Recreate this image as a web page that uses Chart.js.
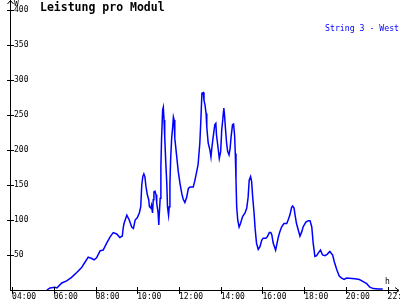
<!DOCTYPE html>
<html>
<head>
<meta charset="utf-8">
<title>Leistung pro Modul</title>
<script src="https://cdn.jsdelivr.net/npm/chart.js@4/dist/chart.umd.min.js"></script>
<style>
  html, body { margin: 0; background: #fff; overflow: hidden; }
  #chart { display: block; }
</style>
</head>
<body>
<canvas id="chart" width="420" height="300"></canvas>
<script>
// data
const times = ['05:40','05:49','06:03','06:09','06:23','06:37','06:51','07:06','07:20','07:30','07:39','07:49','07:56','08:03','08:13','08:22','08:32','08:42','08:51','09:01','09:10','09:17','09:20','09:22','09:30','09:37','09:44','09:49','09:54','10:00','10:06','10:10','10:13','10:16','10:19','10:22','10:25','10:29','10:33','10:35','10:39','10:41','10:44','10:46','10:48','10:51','10:54','10:56','11:00','11:02','11:03','11:06','11:08','11:10','11:13','11:15','11:17','11:19','11:22','11:25','11:27','11:30','11:32','11:34','11:36','11:39','11:42','11:44','11:46','11:48','11:53','11:58','12:03','12:08','12:12','12:17','12:22','12:27','12:32','12:41','12:46','12:51','12:55','13:00','13:03','13:06','13:10','13:12','13:15','13:18','13:20','13:24','13:29','13:32','13:35','13:39','13:43','13:46','13:48','13:52','13:56','14:00','14:03','14:06','14:08','14:09','14:11','14:14','14:17','14:20','14:24','14:27','14:30','14:34','14:37','14:40','14:42','14:44','14:46','14:49','14:53','14:57','15:03','15:10','15:15','15:19','15:22','15:26','15:29','15:32','15:36','15:39','15:43','15:48','15:53','15:58','16:02','16:10','16:14','16:20','16:24','16:27','16:31','16:38','16:41','16:46','16:50','16:55','17:02','17:10','17:14','17:19','17:24','17:27','17:31','17:34','17:38','17:43','17:48','17:53','17:57','18:05','18:12','18:17','18:22','18:26','18:31','18:36','18:41','18:47','18:53','19:00','19:06','19:14','19:22','19:27','19:34','19:41','19:48','19:55','20:02','20:26','20:39','20:50','21:00','21:09','21:19','21:34','21:46'];
const watts = [0,3,4,3,10,13,18,25,32,40,47,45,43,46,56,57,67,76,82,80,75,77,90,95,107,100,90,88,100,103,110,119,150,162,166,162,148,136,129,119,117,121,110,129,140,141,136,124,110,93,105,131,176,217,257,261,243,219,183,152,119,107,119,152,186,217,233,247,243,217,193,169,152,138,130,125,132,145,147,147,157,169,179,210,243,281,282,271,264,252,233,210,200,190,205,221,236,238,221,205,188,198,229,243,255,260,250,229,210,198,193,202,219,236,237,221,195,157,119,100,90,95,105,110,117,133,157,162,155,133,110,88,67,58,62,71,74,74,76,82,82,79,67,57,64,76,83,90,95,95,100,107,118,120,117,107,95,86,77,83,90,97,99,99,90,67,48,49,53,57,50,49,51,55,50,40,29,20,17,15,17,16,15,12,9,4,2,1.5,1.5];
const seriesName = 'String 3 - West';
const xTicks = [4, 6, 8, 10, 12, 14, 16, 18, 20, 22];
const yTicks = [50, 100, 150, 200, 250, 300, 350, 400];

const mono = "'DejaVu Sans Mono', 'Liberation Mono', monospace";

function toHours(t) {
    const p = t.split(':');
    return Number(p[0]) + Number(p[1]) / 60;
}

const points = times.map((t, i) => ({ x: toHours(t), y: watts[i] }));

// title, legend text, axis arrows and crossing tick marks
const decoration = {
    id: 'decoration',
    afterDraw(chart) {
        const ctx = chart.ctx;
        const area = chart.chartArea;
        const xs = chart.scales.x;
        const ys = chart.scales.y;
        ctx.save();
        ctx.strokeStyle = '#000';
        ctx.lineWidth = 1;

        // axes with arrows
        ctx.beginPath();
        ctx.moveTo(area.left + 0.5, area.bottom);
        ctx.lineTo(area.left + 0.5, 0);
        ctx.moveTo(area.left - 2.5, 4);
        ctx.lineTo(area.left + 0.5, 0.5);
        ctx.lineTo(area.left + 3.5, 4);
        ctx.moveTo(area.left, area.bottom + 0.5);
        ctx.lineTo(399, area.bottom + 0.5);
        ctx.moveTo(395, area.bottom - 2.5);
        ctx.lineTo(399, area.bottom + 0.5);
        ctx.lineTo(395, area.bottom + 3.5);

        // tick marks crossing the axes
        ys.ticks.forEach(t => {
            const py = Math.round(ys.getPixelForValue(t.value)) + 0.5;
            ctx.moveTo(area.left - 3, py);
            ctx.lineTo(area.left + 4, py);
        });
        xs.ticks.forEach(t => {
            const px = Math.round(xs.getPixelForValue(t.value)) + 0.5;
            ctx.moveTo(px, area.bottom - 3);
            ctx.lineTo(px, area.bottom + 4);
        });
        ctx.stroke();

        // unit labels
        ctx.fillStyle = '#000';
        ctx.font = '8px ' + mono;
        ctx.textBaseline = 'alphabetic';
        ctx.textAlign = 'left';
        ctx.fillText('W', area.left + 4, 6);
        ctx.fillText('h', 385, area.bottom - 6);

        // title
        ctx.font = 'bold 11.5px ' + mono;
        ctx.fillText('Leistung pro Modul', 40, 11);

        // series name, top right
        ctx.fillStyle = '#0000ff';
        ctx.font = '8.2px ' + mono;
        ctx.textAlign = 'right';
        ctx.fillText(chart.data.datasets[0].label, 399, 31);
        ctx.restore();
    }
};

const config = {
    type: 'line',
    data: {
        datasets: [{
            label: seriesName,
            data: points,
            borderColor: '#0000ff',
            borderWidth: 1.5,
            pointRadius: 0,
            tension: 0,
            fill: false
        }]
    },
    options: {
        responsive: false,
        animation: false,
        devicePixelRatio: 1,
        layout: { padding: { top: 10, right: 22, left: 0, bottom: 0 } },
        plugins: {
            legend: { display: false },
            title: { display: false },
            tooltip: { enabled: false }
        },
        scales: {
            x: {
                type: 'linear',
                min: 3.9,
                max: 22.5,
                afterBuildTicks: scale => { scale.ticks = xTicks.map(v => ({ value: v })); },
                afterFit: scale => {
                    scale.height = 10;
                    scale.paddingLeft = 0;
                    scale.paddingRight = 0;
                },
                grid: { display: false, drawTicks: false },
                border: { display: false },
                ticks: {
                    autoSkip: false,
                    maxRotation: 0,
                    align: 'start',
                    padding: 2,
                    color: '#000',
                    font: { family: mono, size: 8 },
                    callback: v => String(v).padStart(2, '0') + ':00'
                }
            },
            y: {
                min: 0,
                max: 400,
                afterBuildTicks: scale => { scale.ticks = yTicks.map(v => ({ value: v })); },
                afterFit: scale => {
                    scale.width = 10;
                    scale.paddingTop = 0;
                    scale.paddingBottom = 0;
                },
                grid: { display: false, drawTicks: false },
                border: { display: false },
                ticks: {
                    mirror: true,
                    padding: 4,
                    color: '#000',
                    font: { family: mono, size: 8 }
                }
            }
        }
    },
    plugins: [decoration]
};

new Chart(document.getElementById('chart').getContext('2d'), config);
</script>
</body>
</html>
